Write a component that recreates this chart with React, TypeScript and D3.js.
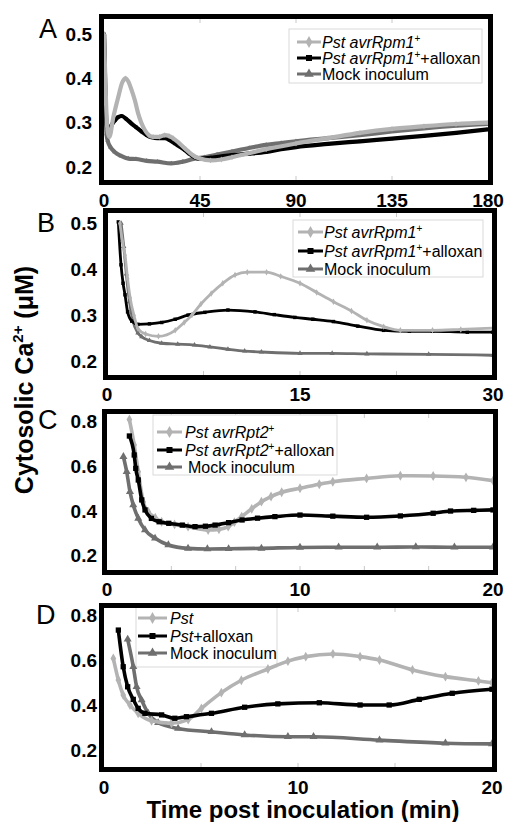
import React from 'react';
import * as d3 from 'd3';

type Pt = [number, number];

// ---------- DATA (time in min, cytosolic Ca2+ in µM) ----------
const A_PST: Pt[] = [[0,0.5],[0.5,0.42],[1,0.34],[1.5,0.29],[2.5,0.268],[4.4,0.313],[6.7,0.358],[8.5,0.39],[10.1,0.4],[11.5,0.392],[12.9,0.374],[14.5,0.35],[16,0.321],[17.5,0.3],[19.2,0.283],[21,0.272],[23,0.268],[26,0.268],[28.5,0.272],[30.5,0.27],[32.4,0.265],[35,0.255],[37.9,0.242],[40,0.233],[42.5,0.224],[45,0.219],[50,0.215],[55,0.217],[60,0.222],[67,0.23],[76,0.24],[90,0.253],[105,0.265],[120,0.277],[135,0.286],[150,0.292],[165,0.297],[180,0.3]];
const A_ALLOX: Pt[] = [[0,0.5],[0.5,0.4],[1,0.31],[1.5,0.29],[2.5,0.285],[3.6,0.295],[5.1,0.305],[6.5,0.312],[8.3,0.315],[10.5,0.308],[12.9,0.298],[15,0.29],[17.6,0.28],[20,0.272],[22.3,0.267],[25,0.265],[28.5,0.265],[31,0.26],[33.2,0.253],[35.5,0.246],[37.9,0.238],[40,0.23],[42.5,0.222],[45,0.219],[52,0.222],[60,0.227],[68,0.23],[76,0.234],[83,0.24],[90,0.245],[105,0.252],[120,0.258],[135,0.264],[150,0.27],[165,0.277],[180,0.285]];
const A_MOCK: Pt[] = [[0,0.5],[0.4,0.4],[0.8,0.31],[1.2,0.275],[1.7,0.26],[3,0.245],[5,0.234],[8,0.225],[11.4,0.219],[15,0.218],[20,0.214],[25,0.212],[31.6,0.208],[37,0.212],[42.5,0.219],[47,0.222],[53,0.228],[60,0.235],[68,0.243],[76,0.25],[83,0.254],[90,0.258],[105,0.265],[120,0.272],[135,0.28],[150,0.287],[165,0.293],[180,0.297]];

const B_PST: Pt[] = [[1.0,0.5],[1.2,0.46],[1.4,0.431],[1.6,0.38],[1.8,0.338],[2.1,0.3],[2.4,0.272],[3.0,0.26],[4.0,0.255],[5.3,0.268],[6.0,0.285],[6.6,0.301],[7.3,0.325],[8.1,0.348],[9.0,0.37],[9.95,0.388],[10.9,0.394],[12.4,0.394],[13.5,0.385],[15,0.37],[16.3,0.35],[17.6,0.33],[19,0.31],[20.2,0.29],[21.5,0.276],[22.8,0.268],[25.3,0.268],[27.5,0.27],[30,0.273]];
const B_ALLOX: Pt[] = [[0.88,0.503],[1.09,0.41],[1.25,0.37],[1.4,0.345],[1.6,0.308],[1.92,0.288],[2.4,0.281],[3.3,0.282],[4.25,0.285],[5.3,0.292],[6.3,0.301],[7.6,0.307],[9.4,0.312],[11.5,0.308],[13,0.302],[14.6,0.296],[16,0.292],[17.6,0.287],[19.5,0.277],[21.5,0.268],[23.5,0.266],[25.3,0.266],[28,0.264],[30,0.264]];
const B_MOCK: Pt[] = [[1.1,0.5],[1.3,0.45],[1.5,0.39],[1.75,0.33],[2.0,0.29],[2.4,0.262],[2.7,0.254],[3.3,0.246],[4.25,0.24],[5.5,0.238],[6.8,0.236],[8,0.232],[9.4,0.227],[10.7,0.223],[12,0.221],[15,0.218],[17.5,0.218],[20.2,0.217],[25,0.216],[30,0.214]];

const C_PST: Pt[] = [[1.16,0.81],[1.41,0.696],[1.62,0.576],[1.88,0.44],[2.14,0.397],[2.5,0.37],[2.83,0.352],[3.5,0.34],[4.2,0.33],[5.24,0.315],[5.8,0.318],[6.28,0.33],[6.6,0.35],[6.98,0.375],[7.5,0.41],[8.0,0.442],[8.5,0.465],[9.05,0.484],[10,0.502],[11,0.52],[11.7,0.531],[13.45,0.546],[15.2,0.558],[16.9,0.557],[18.6,0.551],[20,0.536]];
const C_ALLOX: Pt[] = [[1.16,0.736],[1.41,0.651],[1.49,0.591],[1.62,0.539],[1.8,0.45],[1.97,0.405],[2.3,0.367],[2.7,0.352],[3.2,0.345],[3.9,0.337],[4.56,0.33],[5.1,0.332],[5.6,0.337],[6.3,0.348],[7.0,0.36],[7.8,0.368],[8.7,0.375],[10,0.382],[11.7,0.377],[13.45,0.372],[15.2,0.378],[16.9,0.39],[17.8,0.4],[19,0.403],[20,0.405]];
const C_MOCK: Pt[] = [[0.85,0.643],[1.02,0.576],[1.19,0.487],[1.36,0.427],[1.62,0.367],[1.97,0.315],[2.49,0.278],[3.18,0.248],[4.2,0.233],[5.2,0.23],[6.3,0.231],[8,0.233],[10,0.237],[12,0.238],[14,0.238],[16,0.239],[18,0.238],[20,0.238]];

const D_PST: Pt[] = [[0.48,0.607],[0.74,0.511],[0.99,0.444],[1.34,0.4],[1.76,0.363],[2.45,0.33],[3.48,0.319],[4.34,0.335],[5.02,0.385],[6.05,0.455],[7.08,0.51],[8.45,0.56],[9.48,0.595],[10.4,0.615],[11.8,0.627],[13.2,0.615],[14.2,0.6],[15.9,0.556],[17.6,0.526],[19.3,0.507],[20,0.499]];
const D_ALLOX: Pt[] = [[0.74,0.733],[0.99,0.57],[1.22,0.481],[1.51,0.425],[1.76,0.385],[2.11,0.363],[2.97,0.356],[3.65,0.341],[4.25,0.348],[5.54,0.363],[7.25,0.39],[8.96,0.405],[11.1,0.41],[13.2,0.4],[14.7,0.4],[16.25,0.425],[17.95,0.452],[20,0.47]];
const D_MOCK: Pt[] = [[1.22,0.692],[1.51,0.57],[1.68,0.481],[1.94,0.422],[2.28,0.363],[2.79,0.321],[3.82,0.296],[5.54,0.281],[7.25,0.267],[9.48,0.259],[10.8,0.259],[14.2,0.244],[17.6,0.23],[20,0.227]];

const A_XTICKS = [0, 45, 90, 135, 180];
const B_XTICKS = [0, 15, 30];
const CD_XTICKS = [0, 10, 20];
const AB_YTICKS = [0.2, 0.3, 0.4, 0.5];
const CD_YTICKS = [0.2, 0.4, 0.6, 0.8];

const LEG_RPM1 = ['Pst avrRpm1', 'Pst avrRpm1'];
const LEG_RPT2 = ['Pst avrRpt2', 'Pst avrRpt2'];
const LEG_PST = ['Pst', 'Pst'];

// ---------- STYLE ----------
const COL = { pst: '#b3b3b3', allox: '#000000', mock: '#6f6f6f' };
const FONT = 'Liberation Sans, Arial, Helvetica, sans-serif';

type Seg = { t: string; it?: boolean; sup?: boolean };

interface Panel {
  id: string;
  letter: string;
  letterPos: [number, number];
  inner: [number, number, number, number];
  xDomain: [number, number];
  xRange: [number, number];
  yAnchor: [number, number, number, number];
  xTicks: number[];
  minor: number[];
  yTicks: number[];
  yLabelRight: number;
  xLabelBase: number;
  series: { data: Pt[]; key: 'pst' | 'allox' | 'mock' }[];
  lw: number;
  ms: number;
  legend: { box: [number, number, number, number]; rows: number[]; symX: [number, number]; textX: number; labels: Seg[][] };
}

const symFor = (k: string) => (k === 'pst' ? d3.symbolDiamond : k === 'allox' ? d3.symbolSquare : d3.symbolTriangle);

const legendLabels = (base: string[], plus: boolean): Seg[][] => [
  plus ? [{ t: base[0], it: true }, { t: '+', sup: true }] : [{ t: base[0], it: true }],
  plus ? [{ t: base[1], it: true }, { t: '+', sup: true }, { t: '+alloxan' }] : [{ t: base[1], it: true }, { t: '+alloxan' }],
  [{ t: 'Mock inoculum' }],
];

const PANELS: Panel[] = [
  {
    id: 'A', letter: 'A', letterPos: [39, 38], inner: [104, 488, 19, 180],
    xDomain: [0, 180], xRange: [104, 488], yAnchor: [0.2, 167, 0.5, 34],
    xTicks: A_XTICKS, minor: [45, 90, 135], yTicks: AB_YTICKS, yLabelRight: 92, xLabelBase: 207,
    series: [{ data: A_MOCK, key: 'mock' }, { data: A_ALLOX, key: 'allox' }, { data: A_PST, key: 'pst' }],
    lw: 4.2, ms: 10,
    legend: { box: [289, 482, 29, 83], rows: [42, 58, 74], symX: [297, 321], textX: 322, labels: legendLabels(LEG_RPM1, true) },
  },
  {
    id: 'B', letter: 'B', letterPos: [37, 232], inner: [108, 492, 213, 375],
    xDomain: [0, 30], xRange: [107, 493], yAnchor: [0.2, 361.7, 0.5, 223.3],
    xTicks: B_XTICKS, minor: [7.5, 15, 22.5], yTicks: AB_YTICKS, yLabelRight: 97, xLabelBase: 401,
    series: [{ data: B_MOCK, key: 'mock' }, { data: B_ALLOX, key: 'allox' }, { data: B_PST, key: 'pst' }],
    lw: 2.8, ms: 12,
    legend: { box: [293, 483, 220, 277], rows: [232, 251, 269], symX: [298, 323], textX: 324, labels: legendLabels(LEG_RPM1, true) },
  },
  {
    id: 'C', letter: 'C', letterPos: [38, 429], inner: [107, 493, 414, 570],
    xDomain: [0, 20], xRange: [107, 493], yAnchor: [0.2, 555.7, 0.8, 421.7],
    xTicks: CD_XTICKS, minor: [10 / 3, 20 / 3, 10, 40 / 3, 50 / 3], yTicks: CD_YTICKS, yLabelRight: 97, xLabelBase: 596,
    series: [{ data: C_MOCK, key: 'mock' }, { data: C_PST, key: 'pst' }, { data: C_ALLOX, key: 'allox' }],
    lw: 3.6, ms: 28,
    legend: { box: [153, 337, 415, 475], rows: [432, 450, 467], symX: [157, 182], textX: 185, labels: legendLabels(LEG_RPT2, true) },
  },
  {
    id: 'D', letter: 'D', letterPos: [36, 624], inner: [104, 492, 608, 767],
    xDomain: [0, 20], xRange: [104, 492], yAnchor: [0.2, 750, 0.8, 615],
    xTicks: CD_XTICKS, minor: [5, 10, 15], yTicks: CD_YTICKS, yLabelRight: 97, xLabelBase: 794,
    series: [{ data: D_MOCK, key: 'mock' }, { data: D_PST, key: 'pst' }, { data: D_ALLOX, key: 'allox' }],
    lw: 3.6, ms: 28,
    legend: { box: [136, 277, 607, 667], rows: [618, 636, 653], symX: [138, 167], textX: 170, labels: legendLabels(LEG_PST, false) },
  },
];

const LegendText: React.FC<{ x: number; y: number; segs: Seg[] }> = ({ x, y, segs }) => (
  <text x={x} y={y + 5.5} fontFamily={FONT} fontSize={16} fill="#000">
    {segs.map((s, i) =>
      s.sup ? (
        <tspan key={i} fontSize={10} dy={-6}>{s.t}</tspan>
      ) : (
        <tspan key={i} fontStyle={s.it ? 'italic' : 'normal'} dy={i > 0 && segs[i - 1].sup ? 6 : 0}>{s.t}</tspan>
      )
    )}
  </text>
);

const PanelView: React.FC<{ p: Panel }> = ({ p }) => {
  const [x0, x1, y0, y1] = p.inner;
  const xs = d3.scaleLinear().domain(p.xDomain).range(p.xRange);
  const ys = d3.scaleLinear().domain([p.yAnchor[0], p.yAnchor[2]]).range([p.yAnchor[1], p.yAnchor[3]]);
  const line = d3.line<Pt>().x(d => xs(d[0])).y(d => ys(d[1])).curve(d3.curveMonotoneX);
  const clipId = `clip-${p.id}`;
  const fw = 5;
  return (
    <g>
      <defs>
        <clipPath id={clipId}>
          <rect x={x0} y={y0} width={x1 - x0} height={y1 - y0} />
        </clipPath>
      </defs>
      {p.minor.map((m, i) => (
        <g key={i} stroke="#c8c8c8" strokeWidth={1}>
          <line x1={xs(m)} x2={xs(m)} y1={y1} y2={y1 - 4} />
          <line x1={xs(m)} x2={xs(m)} y1={y0} y2={y0 + 4} />
        </g>
      ))}
      <g>
        <rect x={p.legend.box[0]} y={p.legend.box[2]} width={p.legend.box[1] - p.legend.box[0]} height={p.legend.box[3] - p.legend.box[2]} fill="#fff" stroke="#d9d9d9" strokeWidth={1} />
        {(['pst', 'allox', 'mock'] as const).map((k, i) => {
          const ry = p.legend.rows[i];
          const cx = (p.legend.symX[0] + p.legend.symX[1]) / 2;
          return (
            <g key={k}>
              <line x1={p.legend.symX[0]} x2={p.legend.symX[1]} y1={ry} y2={ry} stroke={COL[k]} strokeWidth={3} />
              <path d={d3.symbol().type(symFor(k)).size(k === 'allox' ? 36 : 40)()!} transform={`translate(${cx},${ry})`} fill={COL[k]} />
              <LegendText x={p.legend.textX + (k === 'mock' && p.id === 'C' ? 3 : 0)} y={ry} segs={p.legend.labels[i]} />
            </g>
          );
        })}
      </g>
      <g clipPath={`url(#${clipId})`}>
        {p.series.map(s => (
          <g key={s.key}>
            <path d={line(s.data)!} fill="none" stroke={COL[s.key]} strokeWidth={p.lw} strokeLinejoin="round" />
            {s.data.map((d, i) => (
              <path key={i} d={d3.symbol().type(symFor(s.key)).size(p.ms)()!} transform={`translate(${xs(d[0])},${ys(d[1])})`} fill={COL[s.key]} />
            ))}
          </g>
        ))}
      </g>
      <rect x={x0 - fw / 2} y={y0 - fw / 2} width={x1 - x0 + fw} height={y1 - y0 + fw} fill="none" stroke="#000" strokeWidth={fw} />
      {p.yTicks.map(v => (
        <text key={v} x={p.yLabelRight} y={ys(v) + 6.5} textAnchor="end" fontFamily={FONT} fontWeight="bold" fontSize={19}>{v.toFixed(1)}</text>
      ))}
      {p.xTicks.map(v => (
        <text key={v} x={xs(v)} y={p.xLabelBase} textAnchor="middle" fontFamily={FONT} fontWeight="bold" fontSize={19}>{v}</text>
      ))}
      <text x={p.letterPos[0]} y={p.letterPos[1]} fontFamily={FONT} fontSize={27}>{p.letter}</text>
    </g>
  );
};

export default function App() {
  return (
    <svg width={511} height={822} style={{ position: 'absolute', left: 0, top: 0, background: '#fff' }}>
      <rect width={511} height={822} fill="#fff" />
      {PANELS.map(p => <PanelView key={p.id} p={p} />)}
      <text transform="translate(33,380) rotate(-90)" textAnchor="middle" fontFamily={FONT} fontWeight="bold" fontSize={25}>
        Cytosolic Ca<tspan fontSize={15} dy={-10}>2+</tspan><tspan dy={10}> (μM)</tspan>
      </text>
      <text x={303} y={818} textAnchor="middle" fontFamily={FONT} fontWeight="bold" fontSize={24}>Time post inoculation (min)</text>
    </svg>
  );
}
